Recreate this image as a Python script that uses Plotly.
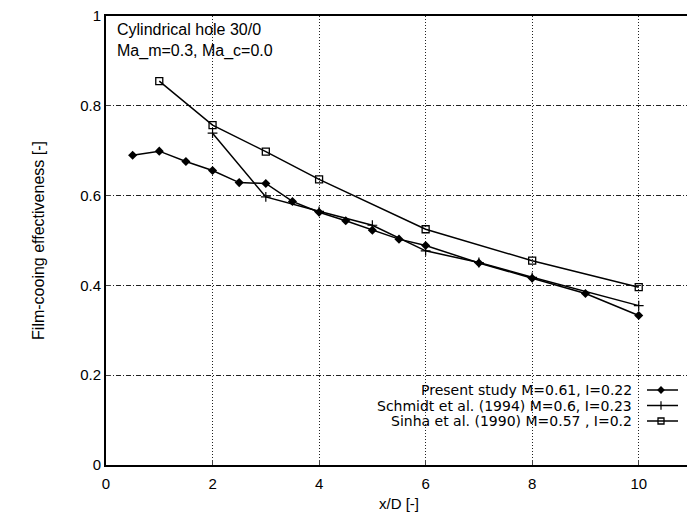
import plotly.graph_objects as go

# Present study M=0.61, I=0.22
present_x = [0.5, 1.0, 1.5, 2.0, 2.5, 3.0, 3.5, 4.0, 4.5, 5.0, 5.5, 6.0, 7.0, 8.0, 9.0, 10.0]
present_y = [0.690, 0.699, 0.676, 0.656, 0.629, 0.627, 0.587, 0.563, 0.544, 0.523, 0.503, 0.489, 0.450, 0.416, 0.382, 0.333]

# Schmidt et al. (1994) M=0.6, I=0.23
schmidt_x = [2.0, 3.0, 4.0, 5.0, 6.0, 7.0, 8.0, 10.0]
schmidt_y = [0.739, 0.597, 0.565, 0.534, 0.477, 0.451, 0.418, 0.355]

# Sinha et al. (1990) M=0.57 , I=0.2
sinha_x = [1.0, 2.0, 3.0, 4.0, 6.0, 8.0, 10.0]
sinha_y = [0.855, 0.757, 0.698, 0.636, 0.525, 0.455, 0.396]

legend_labels = ["Present study M=0.61, I=0.22",
                 "Schmidt et al. (1994) M=0.6, I=0.23",
                 "Sinha et al. (1990) M=0.57 , I=0.2"]

x_ticks = [0, 2, 4, 6, 8, 10]
y_ticks = [0, 0.2, 0.4, 0.6, 0.8, 1]
y_tick_text = ["0", "0.2", "0.4", "0.6", "0.8", "1"]

FONT = "Liberation Sans, Arial, sans-serif"
WIDE = "DejaVu Sans, sans-serif"
BLACK = "#000000"

fig = go.Figure()

series = [
    (present_x, present_y, dict(symbol="diamond", size=7, color=BLACK, line=dict(width=0))),
    (schmidt_x, schmidt_y, dict(symbol="cross-thin", size=7, color=BLACK, line=dict(width=1.2, color=BLACK))),
    (sinha_x, sinha_y, dict(symbol="square-open", size=7, color=BLACK, line=dict(width=1.3, color=BLACK))),
]
for xs, ys, mk in series:
    fig.add_trace(go.Scatter(x=xs, y=ys, mode="lines+markers",
                             line=dict(color=BLACK, width=1.5),
                             marker=mk, showlegend=False))

# Legend (text right-aligned, sample on the right) drawn on an overlay axis in pixel units
leg_y = [(465 - 390) / 449, (465 - 405.5) / 449, (465 - 421) / 449]
for i, (lab, (_, _, mk)) in enumerate(zip(legend_labels, series)):
    fig.add_annotation(x=633, y=leg_y[i], xref="x2", yref="y2", text=lab,
                       showarrow=False, xanchor="right", yanchor="middle", borderpad=0,
                       font=dict(family=WIDE, size=14, color=BLACK))
    fig.add_trace(go.Scatter(x=[647, 678], y=[leg_y[i], leg_y[i]], xaxis="x2", yaxis="y2",
                             mode="lines", line=dict(color=BLACK, width=1.5),
                             showlegend=False, hoverinfo="skip"))
    fig.add_trace(go.Scatter(x=[661], y=[leg_y[i]], xaxis="x2", yaxis="y2",
                             mode="markers", marker=dict(mk, size=6),
                             showlegend=False, hoverinfo="skip"))

fig.add_annotation(x=116, y=(465 - 20) / 449, xref="x2", yref="y2", xanchor="left", yanchor="top",
                   text="Cylindrical hole 30/0<br>Ma_m=0.3, Ma_c=0.0", align="left", borderpad=0,
                   showarrow=False, font=dict(family=FONT, size=16, color=BLACK))

# The page body has an 8px margin, so the figure is made 8px smaller and margins shifted
fig.update_layout(
    width=687, height=507,
    margin=dict(l=98, r=3, t=8, b=50),
    paper_bgcolor="white", plot_bgcolor="white",
    font=dict(family=FONT, size=15, color=BLACK),
    xaxis=dict(range=[0, 11], tickvals=x_ticks, ticks="inside", ticklen=5, automargin=False,
               ticklabelstandoff=4, ticklabeloverflow="allow",
               showline=True, linecolor=BLACK, linewidth=2, mirror=True,
               showgrid=True, gridcolor="#222222", gridwidth=1, griddash="1px,2px",
               zeroline=False, title=dict(text="x/D [-]", standoff=7, font=dict(size=15)),
               tickfont=dict(family=FONT, size=15, color=BLACK)),
    yaxis=dict(range=[0, 1], tickvals=y_ticks, ticktext=y_tick_text, ticks="inside", ticklen=5,
               automargin=False, ticklabeloverflow="allow",
               showline=True, linecolor=BLACK, linewidth=2, mirror=True,
               showgrid=True, gridcolor="#222222", gridwidth=1, griddash="5px,2px,1px,2px",
               zeroline=False, title=dict(text="Film-cooing effectiveness [-]", standoff=32,
                                          font=dict(size=16)),
               tickfont=dict(family=FONT, size=15, color=BLACK)),
    xaxis2=dict(overlaying="x", range=[106, 692], visible=False, fixedrange=True),
    yaxis2=dict(overlaying="y", range=[0, 1], visible=False, fixedrange=True),
)

fig.write_html("out.html")
